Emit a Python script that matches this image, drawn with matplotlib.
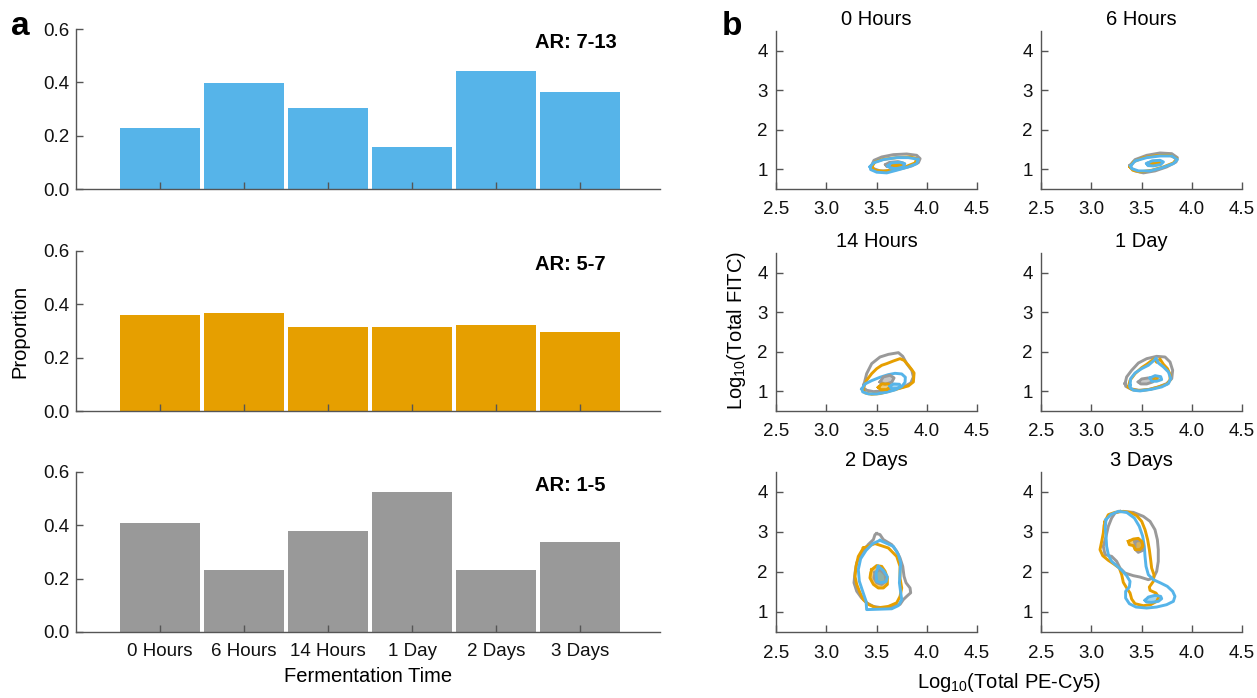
import numpy as np
import matplotlib
matplotlib.use("Agg")
import matplotlib.pyplot as plt

plt.rcParams["font.family"] = ["Liberation Sans", "DejaVu Sans"]
plt.rcParams["mathtext.default"] = "regular"

# -----------------------------
# Panel a data (proportions)
# -----------------------------
times = ["0 Hours", "6 Hours", "14 Hours", "1 Day", "2 Days", "3 Days"]
ar_7_13 = [0.229, 0.397, 0.304, 0.157, 0.442, 0.364]
ar_5_7 = [0.360, 0.367, 0.315, 0.315, 0.322, 0.296]
ar_1_5 = [0.408, 0.232, 0.379, 0.524, 0.232, 0.339]
ar_labels = ["AR: 7-13", "AR: 5-7", "AR: 1-5"]

BLUE = "#56B4E9"
ORANGE = "#E69F00"
GRAY = "#999999"

# -----------------------------
# Panel b data (contour outlines, log10 units)
# -----------------------------
h0_gray = [(3.452, 1.101), (3.475, 1.227), (3.552, 1.311), (3.668, 1.370), (3.801, 1.387), (3.900, 1.353),
           (3.934, 1.269), (3.917, 1.168), (3.851, 1.084), (3.751, 1.017), (3.635, 0.958), (3.535, 0.958),
           (3.469, 1.017)]
h0_orange = [(3.452, 1.059), (3.485, 1.185), (3.568, 1.252), (3.701, 1.294), (3.834, 1.311), (3.900, 1.269),
             (3.884, 1.160), (3.801, 1.076), (3.684, 0.992), (3.568, 0.950), (3.485, 0.975)]
h0_blue = [(3.436, 1.059), (3.469, 1.160), (3.568, 1.244), (3.701, 1.294), (3.817, 1.294), (3.917, 1.252),
           (3.900, 1.143), (3.817, 1.059), (3.701, 0.975), (3.602, 0.908), (3.502, 0.925), (3.442, 0.992)]
h0_gray_in = [(3.591, 1.118), (3.631, 1.176), (3.714, 1.193), (3.764, 1.160), (3.747, 1.092), (3.664, 1.059),
              (3.604, 1.067)]
h0_orange_in = [(3.660, 1.120), (3.720, 1.135), (3.745, 1.100), (3.680, 1.085)]
h0_blue_in = [(3.614, 1.084), (3.648, 1.160), (3.731, 1.176), (3.781, 1.143), (3.771, 1.059), (3.698, 1.017),
              (3.638, 1.025)]

h6_gray = [(3.386, 1.101), (3.436, 1.244), (3.552, 1.353), (3.684, 1.412), (3.801, 1.395), (3.857, 1.294),
           (3.844, 1.185), (3.751, 1.059), (3.635, 0.958), (3.519, 0.908), (3.436, 0.958), (3.392, 1.034)]
h6_orange = [(3.386, 1.059), (3.419, 1.185), (3.519, 1.294), (3.651, 1.345), (3.784, 1.353), (3.851, 1.269),
             (3.817, 1.160), (3.718, 1.059), (3.602, 0.975), (3.486, 0.933), (3.413, 0.975)]
h6_blue = [(3.392, 1.084), (3.436, 1.210), (3.552, 1.294), (3.684, 1.336), (3.801, 1.336), (3.857, 1.244),
           (3.817, 1.143), (3.701, 1.034), (3.585, 0.958), (3.469, 0.958), (3.403, 1.017)]
h6_gray_in = [(3.560, 1.150), (3.610, 1.205), (3.680, 1.215), (3.700, 1.175), (3.670, 1.120), (3.600, 1.100)]
h6_orange_in = [(3.600, 1.160), (3.650, 1.190), (3.680, 1.165), (3.630, 1.135)]
h6_blue_in = [(3.552, 1.143), (3.602, 1.210), (3.684, 1.227), (3.718, 1.185), (3.691, 1.118), (3.618, 1.084),
              (3.565, 1.092)]

h14_gray = [(3.376, 1.177), (3.402, 1.446), (3.452, 1.699), (3.535, 1.867), (3.618, 1.934), (3.718, 1.977),
            (3.761, 1.884), (3.801, 1.699), (3.851, 1.530), (3.867, 1.362), (3.841, 1.210), (3.768, 1.109),
            (3.668, 1.042), (3.568, 1.008), (3.469, 0.991), (3.402, 1.025), (3.369, 1.092)]
h14_orange = [(3.363, 1.042), (3.402, 1.278), (3.452, 1.446), (3.502, 1.572), (3.552, 1.657), (3.601, 1.699),
              (3.668, 1.766), (3.734, 1.825), (3.774, 1.783), (3.817, 1.657), (3.851, 1.547), (3.874, 1.463),
              (3.867, 1.236), (3.817, 1.135), (3.734, 1.076), (3.635, 1.008), (3.535, 0.941), (3.452, 0.924),
              (3.386, 0.957)]
h14_blue = [(3.353, 1.059), (3.386, 1.185), (3.452, 1.269), (3.535, 1.354), (3.618, 1.421), (3.684, 1.454),
            (3.751, 1.438), (3.787, 1.354), (3.784, 1.227), (3.751, 1.118), (3.684, 1.034), (3.601, 0.975),
            (3.502, 0.933), (3.419, 0.933), (3.363, 0.983)]
h14_gray_in = [(3.535, 1.236), (3.568, 1.362), (3.635, 1.404), (3.675, 1.337), (3.651, 1.227), (3.585, 1.177)]
h14_orange_in = [(3.518, 1.101), (3.552, 1.185), (3.618, 1.185), (3.641, 1.118), (3.601, 1.042), (3.541, 1.042)]
h14_blue_in = [(3.635, 1.126), (3.668, 1.185), (3.728, 1.177), (3.741, 1.118), (3.701, 1.067), (3.651, 1.067)]

d1_gray = [(3.336, 1.194), (3.352, 1.362), (3.402, 1.530), (3.469, 1.715), (3.552, 1.825), (3.651, 1.884),
           (3.734, 1.867), (3.784, 1.741), (3.810, 1.530), (3.801, 1.320), (3.751, 1.194), (3.668, 1.109),
           (3.568, 1.042), (3.469, 1.025), (3.386, 1.067), (3.343, 1.126)]
d1_orange = [(3.369, 1.109), (3.386, 1.278), (3.436, 1.446), (3.502, 1.598), (3.552, 1.682), (3.592, 1.758),
             (3.625, 1.817), (3.651, 1.733), (3.684, 1.817), (3.718, 1.682), (3.758, 1.573), (3.784, 1.429),
             (3.784, 1.278), (3.751, 1.177), (3.668, 1.109), (3.585, 1.050), (3.486, 1.017), (3.403, 1.042)]
d1_blue = [(3.386, 1.151), (3.392, 1.320), (3.436, 1.463), (3.502, 1.573), (3.568, 1.657), (3.618, 1.766),
           (3.645, 1.842), (3.668, 1.715), (3.718, 1.615), (3.768, 1.488), (3.791, 1.320), (3.768, 1.194),
           (3.701, 1.109), (3.602, 1.050), (3.486, 1.008), (3.419, 1.025), (3.386, 1.092)]
d1_gray_in = [(3.469, 1.236), (3.502, 1.311), (3.568, 1.337), (3.618, 1.311), (3.612, 1.236), (3.552, 1.185),
              (3.492, 1.185)]
d1_orange_in = [(3.612, 1.337), (3.635, 1.379), (3.658, 1.337), (3.645, 1.278), (3.618, 1.278)]
d1_blue_in = [(3.585, 1.337), (3.635, 1.395), (3.691, 1.370), (3.701, 1.295), (3.651, 1.253), (3.602, 1.253)]

d2_gray = [(3.502, 2.960), (3.535, 2.935), (3.568, 2.810), (3.651, 2.685), (3.701, 2.520), (3.734, 2.350),
           (3.761, 2.140), (3.774, 1.890), (3.794, 1.730), (3.834, 1.600), (3.840, 1.480), (3.800, 1.390),
           (3.767, 1.310), (3.734, 1.190), (3.651, 1.130), (3.568, 1.100), (3.469, 1.140), (3.402, 1.230),
           (3.352, 1.350), (3.303, 1.520), (3.276, 1.730), (3.286, 1.980), (3.303, 2.230), (3.352, 2.480),
           (3.419, 2.690), (3.469, 2.810), (3.485, 2.935)]
d2_orange = [(3.369, 2.600), (3.485, 2.710), (3.618, 2.600), (3.701, 2.390), (3.734, 2.140), (3.734, 1.850),
             (3.751, 1.600), (3.734, 1.390), (3.701, 1.230), (3.618, 1.140), (3.502, 1.100), (3.419, 1.190),
             (3.369, 1.310), (3.336, 1.480), (3.303, 1.690), (3.286, 1.890), (3.296, 2.140), (3.319, 2.390)]
d2_blue = [(3.535, 2.790), (3.668, 2.640), (3.718, 2.435), (3.741, 2.230), (3.734, 1.980), (3.728, 1.730),
           (3.741, 1.480), (3.751, 1.310), (3.718, 1.160), (3.651, 1.080), (3.402, 1.060), (3.396, 1.270),
           (3.362, 1.520), (3.329, 1.770), (3.319, 2.060), (3.342, 2.330), (3.396, 2.540), (3.462, 2.710)]
d2_gray_in = [(3.485, 1.990), (3.535, 2.060), (3.585, 1.940), (3.595, 1.770), (3.552, 1.690), (3.502, 1.730),
              (3.475, 1.850)]
d2_orange_in = [(3.452, 2.060), (3.502, 2.160), (3.552, 2.140), (3.585, 2.020), (3.608, 1.850), (3.608, 1.690),
                (3.568, 1.600), (3.518, 1.600), (3.469, 1.690), (3.435, 1.850), (3.442, 1.980)]
d2_blue_in = [(3.518, 2.140), (3.568, 2.040), (3.608, 1.880), (3.595, 1.760), (3.542, 1.730), (3.502, 1.770),
              (3.495, 1.960)]

d3_gray = [(3.286, 3.516), (3.419, 3.491), (3.518, 3.391), (3.585, 3.266), (3.634, 3.058), (3.658, 2.808),
           (3.667, 2.558), (3.667, 2.266), (3.651, 2.016), (3.618, 1.849), (3.568, 1.808), (3.485, 1.874),
           (3.419, 1.908), (3.336, 1.974), (3.286, 2.099), (3.253, 2.266), (3.203, 2.391), (3.137, 2.433),
           (3.120, 2.641), (3.147, 2.891), (3.170, 3.141), (3.203, 3.349), (3.236, 3.474)]
d3_orange = [(3.137, 3.266), (3.170, 3.433), (3.236, 3.491), (3.319, 3.516), (3.386, 3.491), (3.452, 3.408),
             (3.502, 3.266), (3.535, 3.058), (3.561, 2.808), (3.578, 2.558), (3.591, 2.308), (3.601, 2.099),
             (3.624, 1.933), (3.618, 1.766), (3.578, 1.624), (3.585, 1.541), (3.644, 1.474), (3.671, 1.374),
             (3.651, 1.266), (3.591, 1.183), (3.518, 1.158), (3.435, 1.208), (3.402, 1.324), (3.386, 1.474),
             (3.353, 1.599), (3.319, 1.741), (3.303, 1.933), (3.279, 2.099), (3.220, 2.208), (3.170, 2.291),
             (3.114, 2.408), (3.087, 2.558), (3.104, 2.766), (3.120, 2.974), (3.127, 3.158)]
d3_blue = [(3.147, 3.308), (3.193, 3.433), (3.269, 3.516), (3.352, 3.491), (3.429, 3.349), (3.478, 3.141),
           (3.512, 2.891), (3.528, 2.641), (3.535, 2.391), (3.545, 2.141), (3.568, 1.933), (3.618, 1.808),
           (3.691, 1.724), (3.757, 1.641), (3.810, 1.516), (3.833, 1.391), (3.817, 1.266), (3.750, 1.183),
           (3.651, 1.124), (3.551, 1.099), (3.445, 1.124), (3.379, 1.208), (3.342, 1.349), (3.342, 1.516),
           (3.379, 1.624), (3.386, 1.766), (3.352, 1.908), (3.303, 2.041), (3.253, 2.158), (3.203, 2.266),
           (3.170, 2.433), (3.153, 2.641), (3.147, 2.891), (3.140, 3.124)]
d3_gray_in = [(3.435, 2.766), (3.485, 2.791), (3.518, 2.683), (3.512, 2.541), (3.468, 2.491), (3.435, 2.574)]
d3_orange_in = [(3.369, 2.766), (3.419, 2.824), (3.468, 2.841), (3.505, 2.758), (3.512, 2.641), (3.485, 2.558),
                (3.439, 2.558), (3.419, 2.658), (3.379, 2.683)]
d3_blue_in = [(3.535, 1.291), (3.568, 1.374), (3.634, 1.416), (3.691, 1.391), (3.701, 1.333), (3.668, 1.266),
              (3.601, 1.241), (3.551, 1.249)]

panels = [
    ("0 Hours", [h0_gray, h0_orange, h0_blue], [h0_gray_in, h0_orange_in, h0_blue_in]),
    ("6 Hours", [h6_gray, h6_orange, h6_blue], [h6_gray_in, h6_orange_in, h6_blue_in]),
    ("14 Hours", [h14_gray, h14_orange, h14_blue], [h14_gray_in, h14_orange_in, h14_blue_in]),
    ("1 Day", [d1_gray, d1_orange, d1_blue], [d1_gray_in, d1_orange_in, d1_blue_in]),
    ("2 Days", [d2_gray, d2_orange, d2_blue], [d2_gray_in, d2_orange_in, d2_blue_in]),
    ("3 Days", [d3_gray, d3_orange, d3_blue], [d3_gray_in, d3_orange_in, d3_blue_in]),
]
contour_colors = [GRAY, ORANGE, BLUE]

# -----------------------------
# Figure
# -----------------------------
W, H = 1257, 698
fig = plt.figure(figsize=(W / 100, H / 100), dpi=100)

SPINE = "#555555"
TICK_FS = 13.5
LABEL_FS = 14.5


def style_axes(ax):
    for s in ["top", "right"]:
        ax.spines[s].set_visible(False)
    for s in ["left", "bottom"]:
        ax.spines[s].set_color(SPINE)
        ax.spines[s].set_linewidth(1.0)
    ax.tick_params(direction="in", length=5, width=1, color=SPINE,
                   labelsize=TICK_FS, labelcolor="#111111")


def px_box(left, top, right, bottom):
    return [left / W, (H - bottom) / H, (right - left) / W, (bottom - top) / H]


# panel a: three bar charts
bar_rows = [(29, 189), (251, 411), (472, 632)]
bar_series = [ar_7_13, ar_5_7, ar_1_5]
bar_colors = [BLUE, ORANGE, GRAY]
xpos = np.arange(1, len(times) + 1)

for i, (top, bottom) in enumerate(bar_rows):
    ax = fig.add_axes(px_box(76, top, 660, bottom))
    ax.bar(xpos, bar_series[i], width=0.95, color=bar_colors[i], edgecolor="none")
    ax.set_xlim(0, 6.95)
    ax.set_ylim(0, 0.6)
    ax.set_yticks([0.0, 0.2, 0.4, 0.6])
    ax.set_yticklabels(["0.0", "0.2", "0.4", "0.6"])
    ax.set_xticks(xpos)
    style_axes(ax)
    ax.tick_params(axis="y", pad=5)
    if i == 2:
        ax.set_xticklabels(times)
        ax.tick_params(axis="x", pad=8)
        ax.set_xlabel("Fermentation Time", fontsize=LABEL_FS, labelpad=5)
    else:
        ax.set_xticklabels([])
    ax.text(5.46, 0.55, ar_labels[i], fontsize=LABEL_FS, fontweight="bold",
            ha="left", va="center")
    if i == 1:
        ax.set_ylabel("Proportion", fontsize=LABEL_FS, labelpad=10)

# panel b: 3 x 2 contour grid
col_lr = [(776, 977), (1041, 1242)]
row_tb = [(31, 189), (253, 411), (472, 632)]

for k, (title, outers, inners) in enumerate(panels):
    r, c = divmod(k, 2)
    ax = fig.add_axes(px_box(col_lr[c][0], row_tb[r][0], col_lr[c][1], row_tb[r][1]))
    for pts, col in zip(outers, contour_colors):
        xs = [p[0] for p in pts] + [pts[0][0]]
        ys = [p[1] for p in pts] + [pts[0][1]]
        ax.plot(xs, ys, color=col, lw=2.1, solid_joinstyle="round")
    for pts, col in zip(inners, contour_colors):
        xs = [p[0] for p in pts] + [pts[0][0]]
        ys = [p[1] for p in pts] + [pts[0][1]]
        ax.fill(xs, ys, color=col, alpha=0.55, lw=0)
        ax.plot(xs, ys, color=col, lw=2.1, solid_joinstyle="round")
    ax.set_xlim(2.5, 4.5)
    ax.set_ylim(0.5, 4.5)
    ax.set_xticks([2.5, 3.0, 3.5, 4.0, 4.5])
    ax.set_xticklabels(["2.5", "3.0", "3.5", "4.0", "4.5"])
    ax.set_yticks([1, 2, 3, 4])
    style_axes(ax)
    ax.tick_params(axis="x", pad=9)
    ax.tick_params(axis="y", pad=6)
    ax.set_title(title, fontsize=LABEL_FS, pad=4)

fig.text(1009 / W, (H - 683) / H, "Log$_{10}$(Total PE-Cy5)", fontsize=LABEL_FS,
         ha="center", va="center")
fig.text(737 / W, (H - 330) / H, "Log$_{10}$(Total FITC)", fontsize=LABEL_FS,
         ha="center", va="center", rotation=90)

fig.text(11 / W, (H - 35) / H, "a", fontsize=24, fontweight="bold", va="baseline")
fig.text(722 / W, (H - 35) / H, "b", fontsize=24, fontweight="bold", va="baseline")

fig.savefig("out.png", dpi=100)
